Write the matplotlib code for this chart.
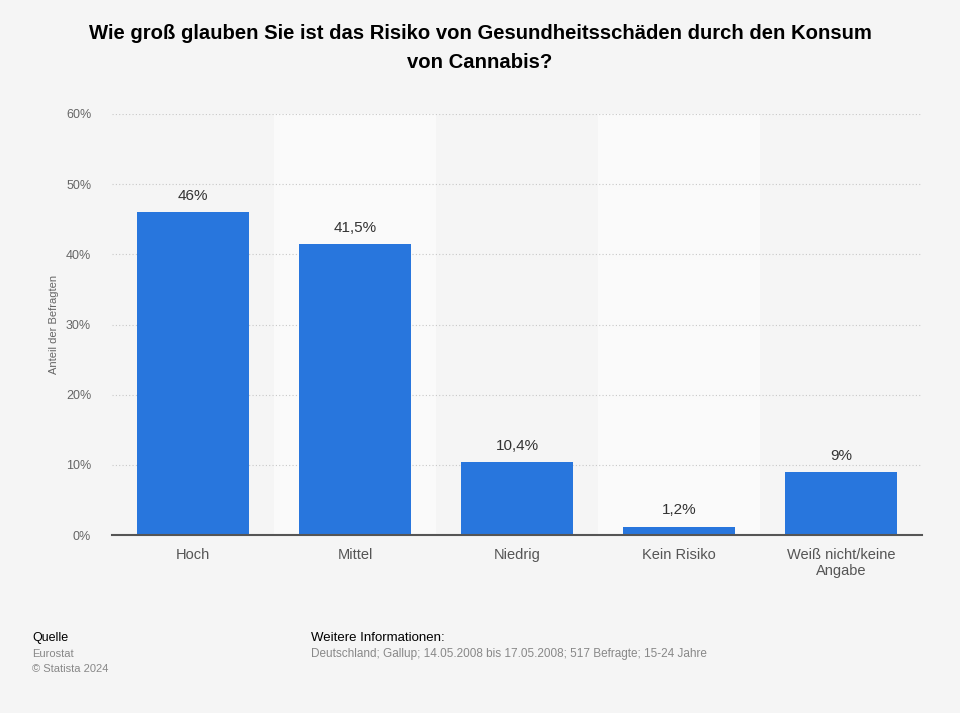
import matplotlib.pyplot as plt
import numpy as np

plt.rcParams['font.family'] = ['Liberation Sans', 'DejaVu Sans']

# Daten
kategorien = ["Hoch", "Mittel", "Niedrig", "Kein Risiko", "Weiß nicht/keine\nAngabe"]
anteile = [46, 41.5, 10.4, 1.2, 9]
beschriftungen = ["46%", "41,5%", "10,4%", "1,2%", "9%"]
y_ticks = [0, 10, 20, 30, 40, 50, 60]

bg = "#f5f5f5"
blau = "#2876dd"

fig = plt.figure(figsize=(9.6, 7.13), dpi=100, facecolor=bg)
ax = fig.add_axes([112 / 960, 1 - 535 / 713, 810 / 960, 421 / 713])
ax.set_facecolor(bg)

x = np.arange(len(kategorien))

# abwechselnde Hintergrundstreifen
for i in x:
    if i % 2 == 1:
        ax.axvspan(i - 0.5, i + 0.5, color="#fafafa", zorder=0, lw=0)

# Gitterlinien
for t in y_ticks[1:]:
    ax.axhline(t, color="#c8c8c8", lw=0.8, ls=(0, (1, 2)), zorder=1)

ax.bar(x, anteile, width=0.69, color=blau, zorder=2)

for xi, v, txt in zip(x, anteile, beschriftungen):
    ax.text(xi, v + 1.3, txt, ha="center", va="bottom", fontsize=11, color="#333333")

ax.set_xlim(-0.5, len(kategorien) - 0.5)
ax.set_ylim(0, 60)
ax.set_yticks(y_ticks)
ax.set_yticklabels([f"{t}%" for t in y_ticks], fontsize=9, color="#666666")
ax.set_xticks(x)
ax.set_xticklabels(kategorien, fontsize=10.5, color="#555555", linespacing=1.15)
ax.tick_params(axis="both", length=0)
ax.tick_params(axis="y", pad=15)
ax.tick_params(axis="x", pad=9.5)

for s in ["top", "right", "left"]:
    ax.spines[s].set_visible(False)
ax.spines["bottom"].set_color("#555555")
ax.spines["bottom"].set_linewidth(1.5)
ax.spines["bottom"].set_zorder(3)

ax.set_ylabel("Anteil der Befragten", fontsize=8, color="#666666", labelpad=5)

fig.text(0.5, 1 - 48 / 713, "Wie groß glauben Sie ist das Risiko von Gesundheitsschäden durch den Konsum\nvon Cannabis?",
         ha="center", va="center", fontsize=14.6, fontweight="bold", color="#000000", linespacing=1.62)

fig.text(32 / 960, 1 - 638 / 713, "Quelle", fontsize=9, color="#000000", va="center")
fig.text(32 / 960, 1 - 654 / 713, "Eurostat", fontsize=8, color="#888888", va="center")
fig.text(32 / 960, 1 - 669 / 713, "© Statista 2024", fontsize=8, color="#888888", va="center")
fig.text(311 / 960, 1 - 638 / 713, "Weitere Informationen:", fontsize=9.5, color="#000000", va="center")
fig.text(311 / 960, 1 - 654 / 713, "Deutschland; Gallup; 14.05.2008 bis 17.05.2008; 517 Befragte; 15-24 Jahre",
         fontsize=8.5, color="#888888", va="center")

fig.savefig("out.png", dpi=100, facecolor=bg)
